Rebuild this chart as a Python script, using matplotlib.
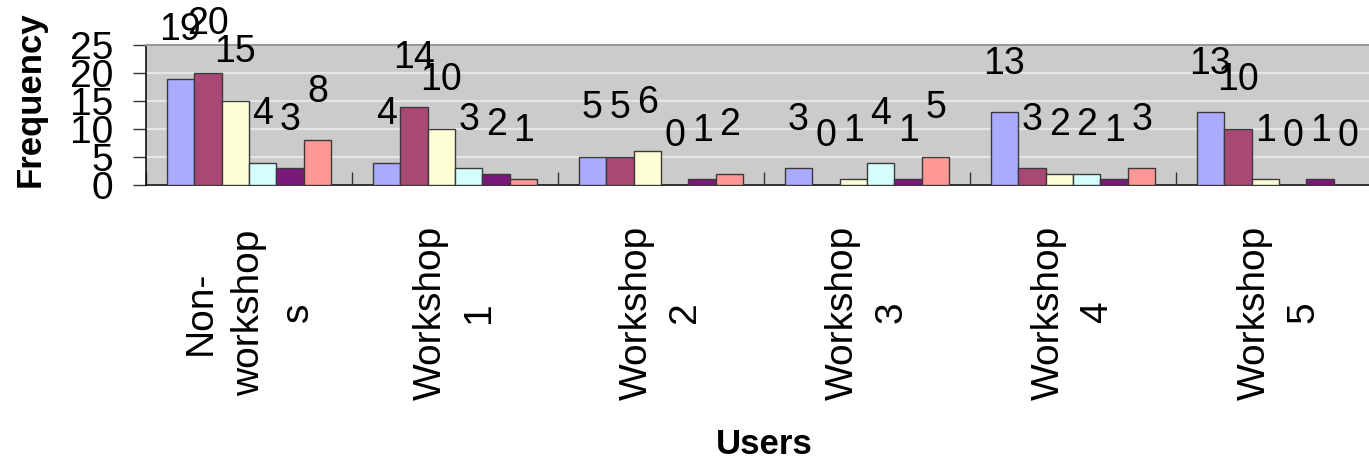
import numpy as np
import matplotlib
matplotlib.use("Agg")
import matplotlib.pyplot as plt
from matplotlib.transforms import blended_transform_factory

plt.rcParams["font.family"] = ["Liberation Sans", "DejaVu Sans"]

groups = ["Non-\nworkshop\ns", "Workshop\n1", "Workshop\n2", "Workshop\n3", "Workshop\n4", "Workshop\n5"]
s1 = [19, 4, 5, 3, 13, 13]
s2 = [20, 14, 5, 0, 3, 10]
s3 = [15, 10, 6, 1, 2, 1]
s4 = [4, 3, 0, 4, 2, 0]
s5 = [3, 2, 1, 1, 1, 1]
s6 = [8, 1, 2, 5, 3, 0]
series = [s1, s2, s3, s4, s5, s6]
yticks = [0, 5, 10, 15, 20, 25]

COLORS = ["#aaaaff", "#aa4875", "#ffffd5", "#d5ffff", "#7b197b", "#ff9794"]

fig = plt.figure(figsize=(13.69, 4.65), dpi=100)
ax = fig.add_axes([146 / 1369, 1 - 185 / 465, 1236 / 1369, 140 / 465])
ax.set_facecolor("#cbcbcb")

x = np.arange(len(groups))
w = 0.8 / len(series)
for i, (vals, c) in enumerate(zip(series, COLORS)):
    xs = x + (i - 2.5) * w
    ax.bar(xs, vals, w, color=c, edgecolor="#3a3a3a", linewidth=1.0, zorder=3)
    for xv, v in zip(xs, vals):
        ax.annotate(f"{v}", (xv, v), xytext=(0, 35), textcoords="offset points",
                    ha="center", va="center", fontsize=27, zorder=5,
                    annotation_clip=False)

ax.set_xlim(-0.5, 5.5)
ax.set_ylim(0, 25)
ax.set_yticks(yticks)
ax.set_yticklabels([str(t) for t in yticks], fontsize=28)
ax.tick_params(axis="y", direction="out", length=9.5, width=1, pad=14, color="#333333")
for lab in ax.get_yticklabels():
    lab.set_verticalalignment("center_baseline")
ax.grid(axis="y", color="#e6e6e6", lw=1.5, zorder=1)

# category dividers as inward ticks
ax.set_xticks(np.arange(-0.5, 6.0, 1.0))
ax.set_xticklabels([])
ax.tick_params(axis="x", direction="in", length=9.5, width=1, color="#333333")

for sp in ["left", "bottom"]:
    ax.spines[sp].set_color("#111111")
    ax.spines[sp].set_linewidth(1.2)
ax.spines["top"].set_color("#9a9a9a")
ax.spines["top"].set_linewidth(1.5)
ax.spines["right"].set_visible(False)

tr = blended_transform_factory(ax.transData, ax.transAxes)
for xv, g in zip(x, groups):
    ax.text(xv, -0.91, g, transform=tr, rotation=90, ha="center", va="center",
            multialignment="center", fontsize=28, linespacing=1.45)

fig.text(30 / 1369, 1 - 99 / 465, "Frequency", rotation=90, ha="center", va="center",
         fontsize=25, fontweight="bold")
fig.text(764 / 1369, 1 - 444 / 465, "Users", ha="center", va="center",
         fontsize=25, fontweight="bold")

fig.savefig("out.png", dpi=100)
